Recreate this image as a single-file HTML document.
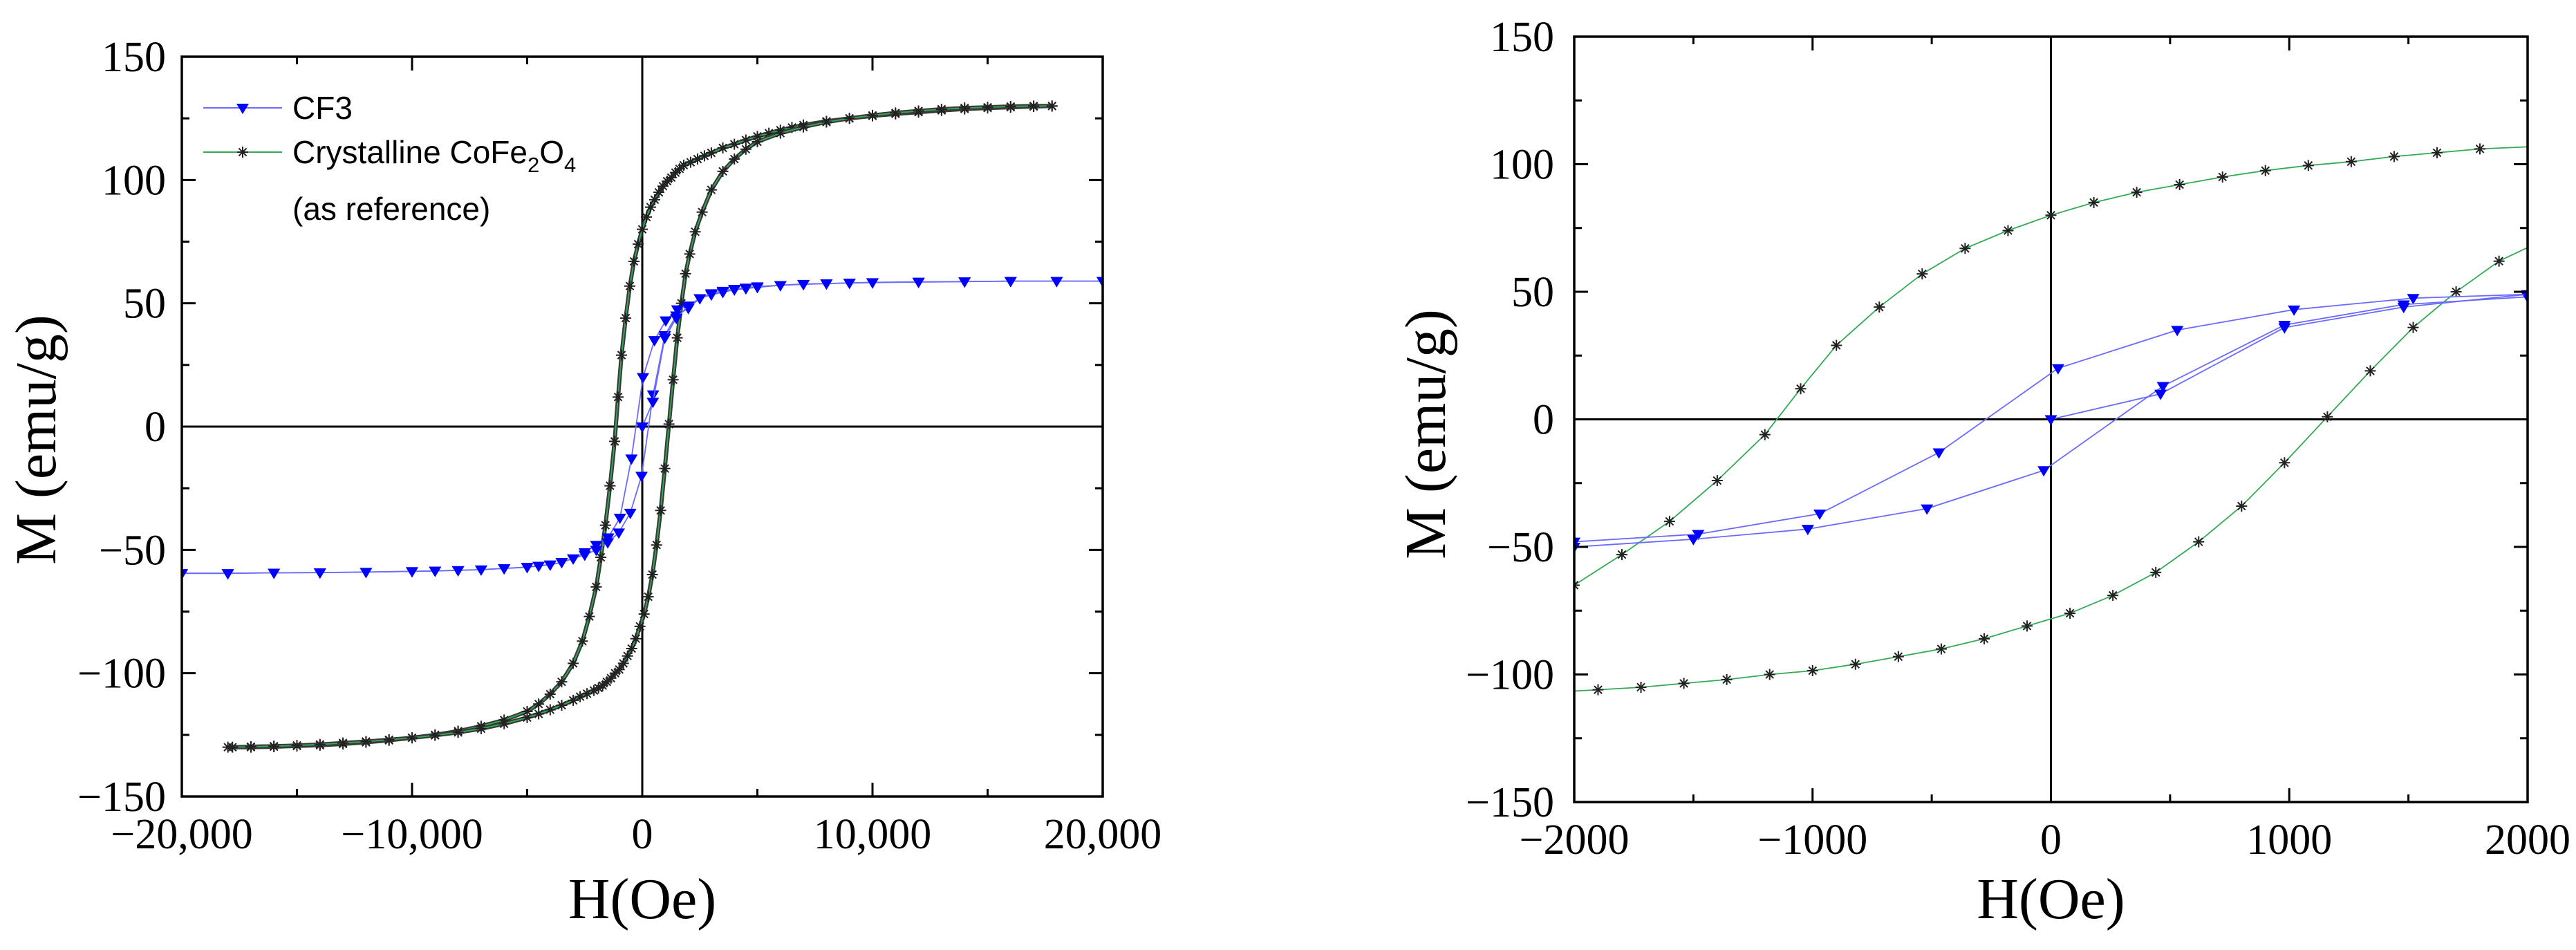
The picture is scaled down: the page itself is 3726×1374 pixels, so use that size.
<!DOCTYPE html>
<html><head><meta charset="utf-8"><style>
html,body{margin:0;padding:0;background:#fff}
svg{display:block}
text{font-family:"Liberation Serif",serif;fill:#000}
.leg{font-family:"Liberation Sans",sans-serif;font-size:46px}
</style></head><body>
<svg id="c" width="3726" height="1374" viewBox="0 0 3726 1374" xmlns="http://www.w3.org/2000/svg">
<defs>
<clipPath id="clipL"><rect x="263" y="82" width="1332" height="1070"/></clipPath>
<clipPath id="clipR"><rect x="2277" y="53" width="1379" height="1107"/></clipPath>
</defs>
</svg>
<script>
// ---- data (H in Oe, M in emu/g) ----
const cfoDownH=[17800,17000,16000,15000,14000,13000,12000,11000,10000,9000,8000,7000,6500,6000,5500,5000,4500,4000,3500,3000,2700,2400,2100,1800,1620,1440,1260,1080,900,720,540,360,180,0,-180,-360,-540,-720,-900,-1050,-1200,-1400,-1600,-1800,-2000,-2300,-2600,-3000,-3500,-4000,-4500,-5000,-6000,-7000,-8000,-9000,-10000,-11000,-12000,-13000,-14000,-15000,-16000,-17000,-18000];
const cfoDownM=[130,129.8,129.5,129.2,128.8,128.2,127.5,126.8,126,125,123.8,122.3,121.3,120.2,119,117.7,116.2,114.5,113,111,109.8,108.5,107.2,106,104.5,103,101,99.5,97.5,95,92,89,85,80,74,67,57,44,29,12,-6,-24,-40,-53,-65,-77,-87,-96,-103.5,-108.5,-112.5,-115.5,-119,-121.5,-123.5,-125,-126.2,-127.2,-128,-128.7,-129.2,-129.5,-129.8,-130,-130];
const cfoUpH=[-17800,-17000,-16000,-15000,-14000,-13000,-12000,-11000,-10000,-9000,-8000,-7000,-6000,-5000,-4500,-4000,-3500,-3000,-2700,-2400,-2100,-1900,-1720,-1540,-1360,-1180,-1000,-820,-640,-460,-280,-100,80,260,440,620,800,980,1160,1340,1520,1700,1880,2060,2300,2600,3000,3500,4000,4500,5000,6000,7000,8000,9000,10000,11000,12000,13000,14000,15000,16000,17000,17800];
const cfoUpM=[-130,-129.8,-129.6,-129.3,-128.9,-128.3,-127.7,-127,-126.2,-125.2,-124,-122.5,-120.5,-118,-116.5,-114.8,-113,-111,-109.5,-108.3,-107,-106,-105,-103.5,-102,-100,-98.5,-96,-93,-90,-86,-81,-76,-69,-60,-48,-34,-17,1,19,36,50,62,70,79,87,96,103.5,108.5,112.5,115.5,119,121.5,123.5,125,126.2,127.2,128,128.7,129.2,129.5,129.8,130,130];
const cf3DownH=[20000,18000,16000,14000,12000,10000,9000,8000,7000,6000,5000,4500,4000,3500,3000,2500,2000,1520,1020,530,30,-470,-970,-1480,-2000,-2500,-3000,-3500,-4000,-4500,-5000,-6000,-7000,-8000,-9000,-10000,-12000,-14000,-16000,-18000,-20000];
const cf3DownM=[59,59,59,58.8,58.6,58.4,58.2,58,57.7,57.3,56.5,56,55.5,54.5,53.5,52,49,47.5,43,35,20,-13,-37,-45,-48,-51,-53.5,-55,-56,-56.5,-57,-57.5,-58,-58.3,-58.5,-58.7,-59,-59.2,-59.3,-59.5,-59.5];
const cf3UpH=[-20000,-18000,-16000,-14000,-12000,-10000,-9000,-8000,-7000,-6000,-5000,-4500,-4000,-3500,-3000,-2500,-2000,-1500,-1020,-520,-30,470,980,1480,2000,2500,3000,3500,4000,4500,5000,6000,7000,8000,9000,10000,12000,14000,16000,18000,20000];
const cf3UpM=[-59.5,-59.5,-59.3,-59.2,-59,-58.7,-58.5,-58.3,-58,-57.5,-57,-56.5,-56,-55,-53.5,-52,-50,-47,-43,-35,-20,13,37,45,48,52,54,55,55.8,56.3,56.8,57.3,57.8,58,58.3,58.5,58.7,58.8,59,59,59];
const cf3VirginH=[0,460,980,1480,2000];
const cf3VirginM=[0,10,36,44,49];
const leftXTicks=[-20000,-10000,0,10000,20000];
const leftXTickLabels=["\u221220,000","\u221210,000","0","10,000","20,000"];
const rightXTicks=[-2000,-1000,0,1000,2000];
const rightXTickLabels=["\u22122000","\u22121000","0","1000","2000"];
const yTicks=[-150,-100,-50,0,50,100,150];
const yTickLabels=["\u2212150","\u2212100","\u221250","0","50","100","150"];

const svg=document.getElementById('c');
const NS='http://www.w3.org/2000/svg';
function mk(tag,attrs,parent){const e=document.createElementNS(NS,tag);for(const k in attrs)e.setAttribute(k,attrs[k]);(parent||svg).appendChild(e);return e;}

function drawPanel(P){
  const g=mk('g',{});
  
  
  const sx=v=>P.x0+(v-P.xmin)/(P.xmax-P.xmin)*(P.x1-P.x0);
  const sy=v=>P.y1-(v-(-150))/300*(P.y1-P.y0);
  const plot=mk('g',{'clip-path':'url(#'+P.clip+')'},g);
  
  
  const zx=mk('line',{x1:P.x0,x2:P.x1,y1:sy(0),y2:sy(0),stroke:'#000','stroke-width':3},plot);
  
  
  const zy=mk('line',{x1:sx(0),x2:sx(0),y1:P.y0,y2:P.y1,stroke:'#000','stroke-width':3},plot);
  
  
  function series(H,M,color,marker,nm,halo){
    const pts=H.map((h,i)=>sx(h).toFixed(1)+','+sy(M[i]).toFixed(1)).join(' ');
    const sg=mk('g',{},plot);
    
    
    if(halo){mk('polyline',{points:pts,fill:'none',stroke:'#3a3a3a','stroke-width':halo,'stroke-linejoin':'round'},sg);}
    mk('polyline',{points:pts,fill:'none',stroke:color,'stroke-width':1.8},sg);
    H.forEach((h,i)=>{
      const x=sx(h),y=sy(M[i]);
      let m;
      if(marker==='tri'){
        m=mk('polygon',{points:(x-9)+','+(y-6)+' '+(x+9)+','+(y-6)+' '+x+','+(y+9),fill:'#0000ff'},sg);
      }else{
        const r=8;
        m=mk('path',{d:`M${x-r},${y}H${x+r}M${x},${y-r}V${y+r}M${x-r*0.7},${y-r*0.7}L${x+r*0.7},${y+r*0.7}M${x-r*0.7},${y+r*0.7}L${x+r*0.7},${y-r*0.7}`,stroke:'#222','stroke-width':2,fill:'none'},sg);
      }
      
      
    });
  }
  const halo=P.dense?6:0;
  series(cfoDownH,cfoDownM,'#33aa55','star','cofe2o4-descending-branch',halo);
  series(cfoUpH,cfoUpM,'#33aa55','star','cofe2o4-ascending-branch',halo);
  series(cf3DownH,cf3DownM,'#6a6aff','tri','cf3-descending-branch',0);
  series(cf3UpH,cf3UpM,'#6a6aff','tri','cf3-ascending-branch',0);
  series(cf3VirginH,cf3VirginM,'#6a6aff','tri','cf3-virgin-curve',0);
  const fr=mk('rect',{x:P.x0,y:P.y0,width:P.x1-P.x0,height:P.y1-P.y0,fill:'none',stroke:'#000','stroke-width':3.5},g);
  
  
  const step=(P.xTicks[1]-P.xTicks[0])/2;
  for(let v=P.xmin;v<=P.xmax+1e-6;v+=step){
    const major=Math.abs(((v-P.xmin)/step)%2)<1e-6; const L=major?20:11; const x=sx(v);
    mk('line',{x1:x,x2:x,y1:P.y1,y2:P.y1-L,stroke:'#000','stroke-width':3},g);
    mk('line',{x1:x,x2:x,y1:P.y0,y2:P.y0+L,stroke:'#000','stroke-width':3},g);
  }
  for(let v=-150;v<=150;v+=25){
    const major=(v%50===0); const L=major?20:11; const y=sy(v);
    mk('line',{x1:P.x0,x2:P.x0+L,y1:y,y2:y,stroke:'#000','stroke-width':3},g);
    mk('line',{x1:P.x1,x2:P.x1-L,y1:y,y2:y,stroke:'#000','stroke-width':3},g);
  }
  P.xTicks.forEach((v,i)=>{
    const t=mk('text',{x:sx(v),y:P.xLabY,'text-anchor':'middle','font-size':62},g);
    t.textContent=P.xLabels[i];
    
    
  });
  yTicks.forEach((v,i)=>{
    const t=mk('text',{x:P.yLabX,y:sy(v)+21,'text-anchor':'end','font-size':62},g);
    t.textContent=yTickLabels[i];
    
    
  });
  const xt=mk('text',{x:(P.x0+P.x1)/2,y:1328,'text-anchor':'middle','font-size':84},g);
  xt.textContent='H(Oe)';
  
  
  const yt=mk('text',{x:0,y:0,'text-anchor':'middle','font-size':84,transform:`translate(${P.yTitleX},${P.yTitleY}) rotate(-90)`},g);
  yt.textContent='M (emu/g)';
  
  
}

drawPanel({name:'left-panel-full-loop',x0:263,x1:1595,y0:82,y1:1152,xmin:-20000,xmax:20000,clip:'clipL',dense:true,
  xTicks:leftXTicks,xLabels:leftXTickLabels,xLabY:1227,yLabX:240,yTitleX:80,yTitleY:636});
drawPanel({name:'right-panel-zoomed-loop',x0:2277,x1:3656,y0:53,y1:1160,xmin:-2000,xmax:2000,clip:'clipR',dense:false,
  xTicks:rightXTicks,xLabels:rightXTickLabels,xLabY:1235,yLabX:2248,yTitleX:2090,yTitleY:628});

const lg=mk('g',{});


const e1=mk('g',{},lg);


mk('line',{x1:294,x2:408,y1:156,y2:156,stroke:'#6a6aff','stroke-width':2},e1);
mk('polygon',{points:'342,150 360,150 351,165',fill:'#0000ff'},e1);
const t1=mk('text',{x:423,y:172,class:'leg'},e1); t1.textContent='CF3';
const e2=mk('g',{},lg);


mk('line',{x1:294,x2:408,y1:220,y2:220,stroke:'#33aa55','stroke-width':2},e2);
mk('path',{d:'M343,220H359M351,212V228M345.4,214.4L356.6,225.6M345.4,225.6L356.6,214.4',stroke:'#222','stroke-width':2},e2);
const t2=mk('text',{x:423,y:236,class:'leg'},e2);
t2.innerHTML='Crystalline CoFe<tspan font-size="31" dy="13">2</tspan><tspan dy="-13">O</tspan><tspan font-size="31" dy="13">4</tspan>';
const t3=mk('text',{x:423,y:318,class:'leg'},e2); t3.textContent='(as reference)';
</script>
</body></html>
